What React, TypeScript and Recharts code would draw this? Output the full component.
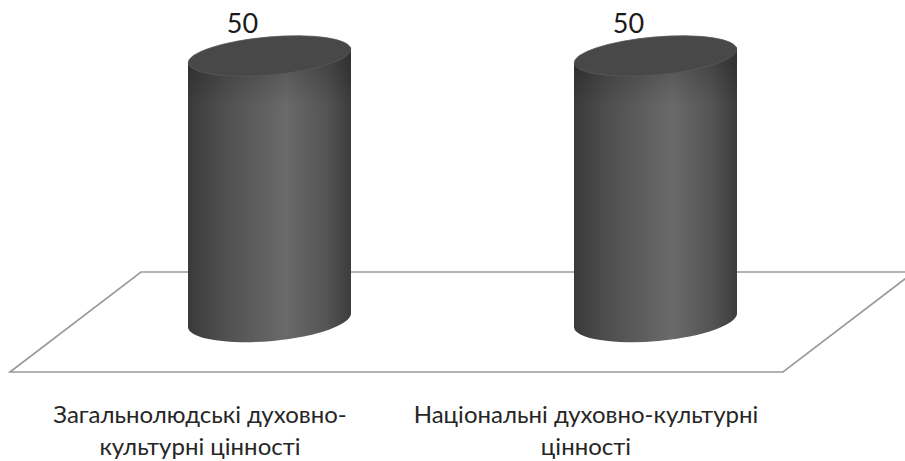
import { BarChart, Bar, XAxis, YAxis, ReferenceArea } from "recharts";

const categories = ["Загальнолюдські духовно-культурні цінності", "Національні духовно-культурні цінності"];
const tickLines = [
  ["Загальнолюдські духовно-", "культурні цінності"],
  ["Національні духовно-культурні", "цінності"],
];
const values = [50, 50];

const data = categories.map((name, i) => ({ name, value: values[i] }));

const FONT = "Lato, 'Open Sans', sans-serif";

// the floor is a parallelogram that sticks out past the plot area
const Floor = (props: any) => {
  const { x, y, width, height } = props;
  const right = x + width;
  const bottom = y + height;
  const pts = [
    [x - 66, bottom + 50],
    [x + 65, bottom - 50],
    [right + 66, bottom - 50],
    [right - 65, bottom + 50],
  ];
  return (
    <polygon
      points={pts.map((p) => p.join(",")).join(" ")}
      fill="#fff"
      stroke="#9a9a9a"
      strokeWidth={1.6}
    />
  );
};

const Cylinder = (props: any) => {
  const { x, y, width, height } = props;
  const rx = width / 2;
  const rise = 7.5; // how far the tilt lifts the right side
  const cx = x + width / 2;
  const left = x;
  const right = x + width;
  const bottom = y + height;
  const body = `M${left},${y + rise} L${left},${bottom + rise - 2}
    A${rx},21 -5 0 0 ${right},${bottom - rise - 2}
    L${right},${y - rise} Z`;
  return (
    <g>
      <path d={body} fill="url(#cylBody)" />
      <path d={body} fill="url(#cylShade)" />
      <ellipse
        cx={cx}
        cy={y + 1}
        rx={rx}
        ry={19}
        fill="#484848"
        stroke="#585858"
        strokeWidth={0.8}
        transform={`rotate(-5 ${cx} ${y + 1})`}
      />
    </g>
  );
};

const CategoryTick = (props: any) => {
  const { x, y, index } = props;
  const lines = tickLines[index];
  return (
    <text x={x - 69} y={y} textAnchor="middle" fontFamily={FONT} fontSize={24} fill="#262626">
      {lines.map((line: string, i: number) => (
        <tspan key={i} x={x - 69} dy={i === 0 ? 0 : 32}>
          {line}
        </tspan>
      ))}
    </text>
  );
};

const ValueLabel = (props: any) => {
  const { x, y, width, value } = props;
  return (
    <text x={x + width / 2 - 27} y={y - 22} textAnchor="middle" fontFamily={FONT} fontSize={27} fill="#1a1a1a">
      {value}
    </text>
  );
};

export default function App() {
  return (
    <div style={{ position: "absolute", left: 0, top: 0, width: 905, height: 461, overflow: "hidden", background: "#fff" }}>
      <BarChart
        width={905}
        height={461}
        data={data}
        margin={{ top: 55, right: 57, bottom: 0, left: 76 }}
        barCategoryGap={0}
      >
        <defs>
          <linearGradient id="cylBody" x1="0" y1="0" x2="1" y2="0">
            <stop offset="0" stopColor="#3a3a3a" />
            <stop offset="0.2" stopColor="#4e4e4e" />
            <stop offset="0.6" stopColor="#6a6a6a" />
            <stop offset="0.85" stopColor="#545454" />
            <stop offset="1" stopColor="#3c3c3c" />
          </linearGradient>
          <linearGradient id="cylShade" x1="0" y1="0" x2="0" y2="1">
            <stop offset="0.06" stopColor="#000" stopOpacity={0.18} />
            <stop offset="0.2" stopColor="#000" stopOpacity={0} />
          </linearGradient>
        </defs>
        <XAxis
          dataKey="name"
          axisLine={false}
          tickLine={false}
          interval={0}
          height={139}
          tick={<CategoryTick />}
          tickMargin={95}
        />
        <YAxis hide domain={[0, 50]} />
        <ReferenceArea x1={categories[0]} x2={categories[1]} y1={0} y2={50} shape={<Floor />} ifOverflow="visible" />
        <Bar
          dataKey="value"
          barSize={163}
          isAnimationActive={false}
          shape={<Cylinder />}
          label={<ValueLabel />}
        />
      </BarChart>
    </div>
  );
}
